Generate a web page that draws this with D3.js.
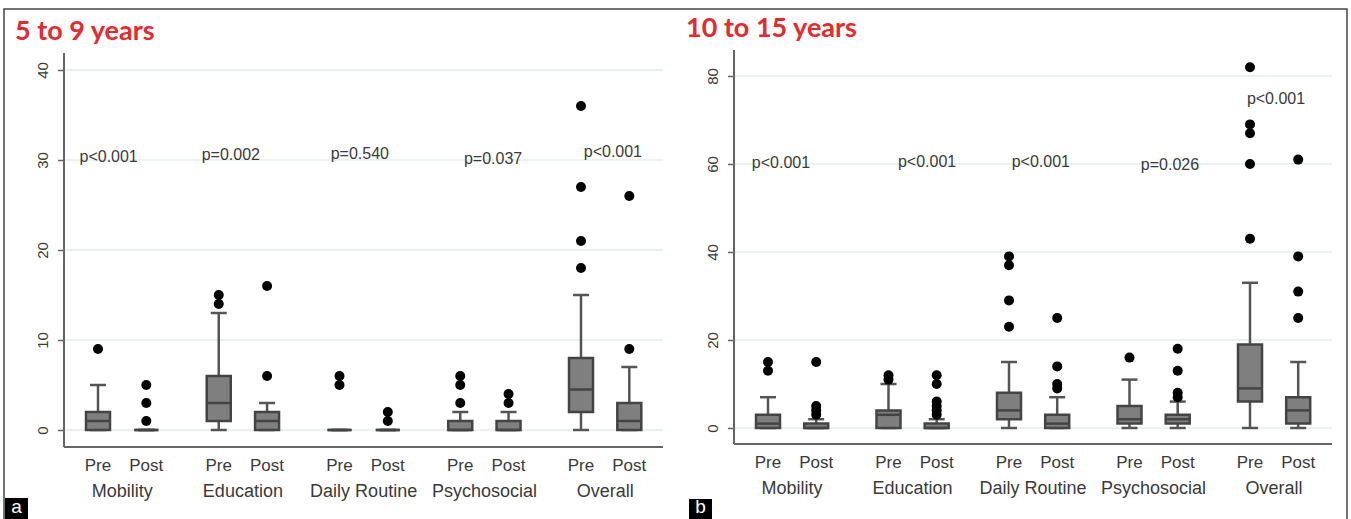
<!DOCTYPE html>
<html>
<head>
<meta charset="utf-8">
<script src="https://cdn.jsdelivr.net/npm/d3@7"></script>
<style>
  body { margin: 0; background: #fff; }
  svg { display: block; font-family: "Liberation Sans", Arial, sans-serif; }
</style>
</head>
<body>
<svg width="1351" height="519"></svg>
<script>
// categories
var groups = ["Mobility", "Education", "Daily Routine", "Psychosocial", "Overall"];
var phases = ["Pre", "Post"];

// 5 to 9 years : [lower whisker, q1, median, q3, upper whisker]
var youngPre  = [[0,0,1,2,5], [0,1,3,6,13], [0,0,0,0,0], [0,0,0,1,2], [0,2,4.5,8,15]];
var youngPost = [[0,0,0,0,0], [0,0,1,2,3],  [0,0,0,0,0], [0,0,0,1,2], [0,0,1,3,7]];
var youngPreOut  = [[9], [14,15], [5,6], [3,5,6], [18,21,27,36]];
var youngPostOut = [[1,3,5], [6,16], [1,2], [3,4], [9,26]];
var youngP = ["p<0.001", "p=0.002", "p=0.540", "p=0.037", "p<0.001"];
var youngPAt = [[1.22,29.8], [3.75,30.0], [6.42,30.1], [9.18,29.6], [11.66,30.3]];
var youngTicks = [0, 10, 20, 30, 40];

// 10 to 15 years
var olderPre  = [[0,0,1,3,7], [0,0,3,4,10], [0,2,4,8,15], [0,1,2,5,11], [0,6,9,19,33]];
var olderPost = [[0,0,0,1,2], [0,0,0,1,2],  [0,0,1,3,7],  [0,1,2,3,6],  [0,1,4,7,15]];
var olderPreOut  = [[13,15], [11,12], [23,29,37,39], [16], [43,60,67,69,82]];
var olderPostOut = [[3,4,5,15], [3,4,5,6,10,12], [9,10,14,25], [7,8,13,18], [25,31,39,61]];
var olderP = ["p<0.001", "p<0.001", "p<0.001", "p=0.026", "p<0.001"];
var olderPAt = [[1.27,59.1], [4.30,59.3], [6.66,59.3], [9.34,58.6], [11.54,73.6]];
var olderTicks = [0, 20, 40, 60, 80];

var svg = d3.select("svg");
var textCol = "#3a3a3a";

//outer frame
svg.append("path")
  .attr("d", "M4,519V9H1347V519")
  .attr("fill", "none")
  .attr("stroke", "#444")
  .attr("stroke-width", 1.5);

function drawPanel(p) {
  var g = svg.append("g");
  // slot positions: pre of group i at 1+2.5i, post at 2+2.5i
  var x = d3.scaleLinear().domain([1, 11]).range(p.xr);
  var y = d3.scaleLinear().domain([0, p.ymax]).range(p.yr);

  //grid lines
  g.selectAll(".grid")
    .data(p.ticks)
    .enter().append("line")
    .attr("x1", p.axisX + 1).attr("x2", p.right)
    .attr("y1", function(d) { return y(d); })
    .attr("y2", function(d) { return y(d); })
    .attr("stroke", "#e9f1f1")
    .attr("stroke-width", 2);

  //y axis
  var ax = g.append("g")
    .attr("transform", "translate(" + p.axisX + ",0)")
    .call(d3.axisLeft(y).tickValues(p.ticks).tickSize(6).tickSizeOuter(0));
  ax.select(".domain").remove();
  ax.selectAll(".tick line").attr("stroke", "#666").attr("stroke-width", 1.5);
  ax.selectAll(".tick text")
    .attr("transform", "rotate(-90)")
    .attr("x", 0).attr("y", -16).attr("dy", null)
    .attr("text-anchor", "middle")
    .attr("fill", textCol)
    .style("font-size", "15px")
    .style("font-family", "'Liberation Sans', Arial, sans-serif");

  //axis lines
  g.append("line")
    .attr("x1", p.axisX).attr("x2", p.axisX)
    .attr("y1", p.top).attr("y2", p.axisY)
    .attr("stroke", "#666").attr("stroke-width", 2);
  g.append("line")
    .attr("x1", p.axisX).attr("x2", p.right)
    .attr("y1", p.axisY).attr("y2", p.axisY)
    .attr("stroke", "#666").attr("stroke-width", 2);

  // build box list
  var boxes = [];
  groups.forEach(function(grp, i) {
    boxes.push({pos: 1 + 2.5 * i, s: p.pre[i], out: p.preOut[i], label: phases[0]});
    boxes.push({pos: 2 + 2.5 * i, s: p.post[i], out: p.postOut[i], label: phases[1]});
  });

  var bw = 24, cw = 16;
  var bg = g.selectAll(".box")
    .data(boxes)
    .enter().append("g")
    .attr("class", "box");

  // whiskers
  bg.append("line")
    .attr("x1", function(d) { return x(d.pos); })
    .attr("x2", function(d) { return x(d.pos); })
    .attr("y1", function(d) { return y(d.s[0]); })
    .attr("y2", function(d) { return y(d.s[4]); })
    .attr("stroke", "#555").attr("stroke-width", 2.5);
  [0, 4].forEach(function(k) {
    bg.append("line")
      .attr("x1", function(d) { return x(d.pos) - cw / 2; })
      .attr("x2", function(d) { return x(d.pos) + cw / 2; })
      .attr("y1", function(d) { return y(d.s[k]); })
      .attr("y2", function(d) { return y(d.s[k]); })
      .attr("stroke", "#555").attr("stroke-width", 2.5);
  });

  // box (path so a zero-height box still shows as a line)
  bg.append("path")
    .attr("d", function(d) {
      var x0 = x(d.pos) - bw / 2, x1 = x(d.pos) + bw / 2;
      return "M" + x0 + "," + y(d.s[1]) + "H" + x1 + "V" + y(d.s[3]) + "H" + x0 + "Z";
    })
    .attr("fill", "#7f7f7f")
    .attr("stroke", "#444")
    .attr("stroke-width", 2.5);

  // median
  bg.append("line")
    .attr("x1", function(d) { return x(d.pos) - bw / 2; })
    .attr("x2", function(d) { return x(d.pos) + bw / 2; })
    .attr("y1", function(d) { return y(d.s[2]); })
    .attr("y2", function(d) { return y(d.s[2]); })
    .attr("stroke", "#444").attr("stroke-width", 2.5);

  // outliers
  bg.selectAll("circle")
    .data(function(d) { return d.out.map(function(v) { return {pos: d.pos, v: v}; }); })
    .enter().append("circle")
    .attr("cx", function(d) { return x(d.pos); })
    .attr("cy", function(d) { return y(d.v); })
    .attr("r", 5)
    .attr("fill", "#000");

  // Pre / Post labels
  g.selectAll(".plab")
    .data(boxes)
    .enter().append("text")
    .attr("x", function(d) { return x(d.pos); })
    .attr("y", p.axisY + 24)
    .attr("text-anchor", "middle")
    .attr("fill", textCol)
    .style("font-size", "17px")
    .text(function(d) { return d.label; });

  // group labels
  g.selectAll(".glab")
    .data(groups)
    .enter().append("text")
    .attr("x", function(d, i) { return x(1.5 + 2.5 * i); })
    .attr("y", p.axisY + 50)
    .attr("text-anchor", "middle")
    .attr("fill", textCol)
    .style("font-size", "18px")
    .text(function(d) { return d; });

  // p values
  g.selectAll(".pval")
    .data(p.pvals)
    .enter().append("text")
    .attr("x", function(d, i) { return x(p.pAt[i][0]); })
    .attr("y", function(d, i) { return y(p.pAt[i][1]); })
    .attr("text-anchor", "middle")
    .attr("fill", textCol)
    .style("font-size", "16px")
    .text(function(d) { return d; });

  //Create Title
  svg.append("text")
    .attr("x", p.titleX)
    .attr("y", p.titleY)
    .attr("fill", "#e8282b")
    .style("font-family", "Lato, 'Open Sans', sans-serif")
    .style("font-weight", "bold")
    .style("font-size", "27px")
    .text(p.title);

  // panel letter
  svg.append("rect")
    .attr("x", p.letterX).attr("y", p.letterY)
    .attr("width", 23).attr("height", 519 - p.letterY)
    .attr("fill", "#000");
  svg.append("text")
    .attr("x", p.letterX + 11.5)
    .attr("y", 513)
    .attr("text-anchor", "middle")
    .attr("fill", "#fff")
    .style("font-size", "19px")
    .text(p.letter);
}

drawPanel({
  title: "5 to 9 years", titleX: 15, titleY: 40,
  letter: "a", letterX: 5, letterY: 498,
  xr: [98, 581], ymax: 40, yr: [430, 70],
  axisX: 64, axisY: 447, top: 53, right: 663,
  ticks: youngTicks,
  pre: youngPre, post: youngPost, preOut: youngPreOut, postOut: youngPostOut,
  pvals: youngP, pAt: youngPAt
});

drawPanel({
  title: "10 to 15 years", titleX: 686, titleY: 37,
  letter: "b", letterX: 689, letterY: 499,
  xr: [768, 1250], ymax: 80, yr: [428, 76],
  axisX: 734, axisY: 444, top: 50, right: 1332,
  ticks: olderTicks,
  pre: olderPre, post: olderPost, preOut: olderPreOut, postOut: olderPostOut,
  pvals: olderP, pAt: olderPAt
});
</script>
</body>
</html>
